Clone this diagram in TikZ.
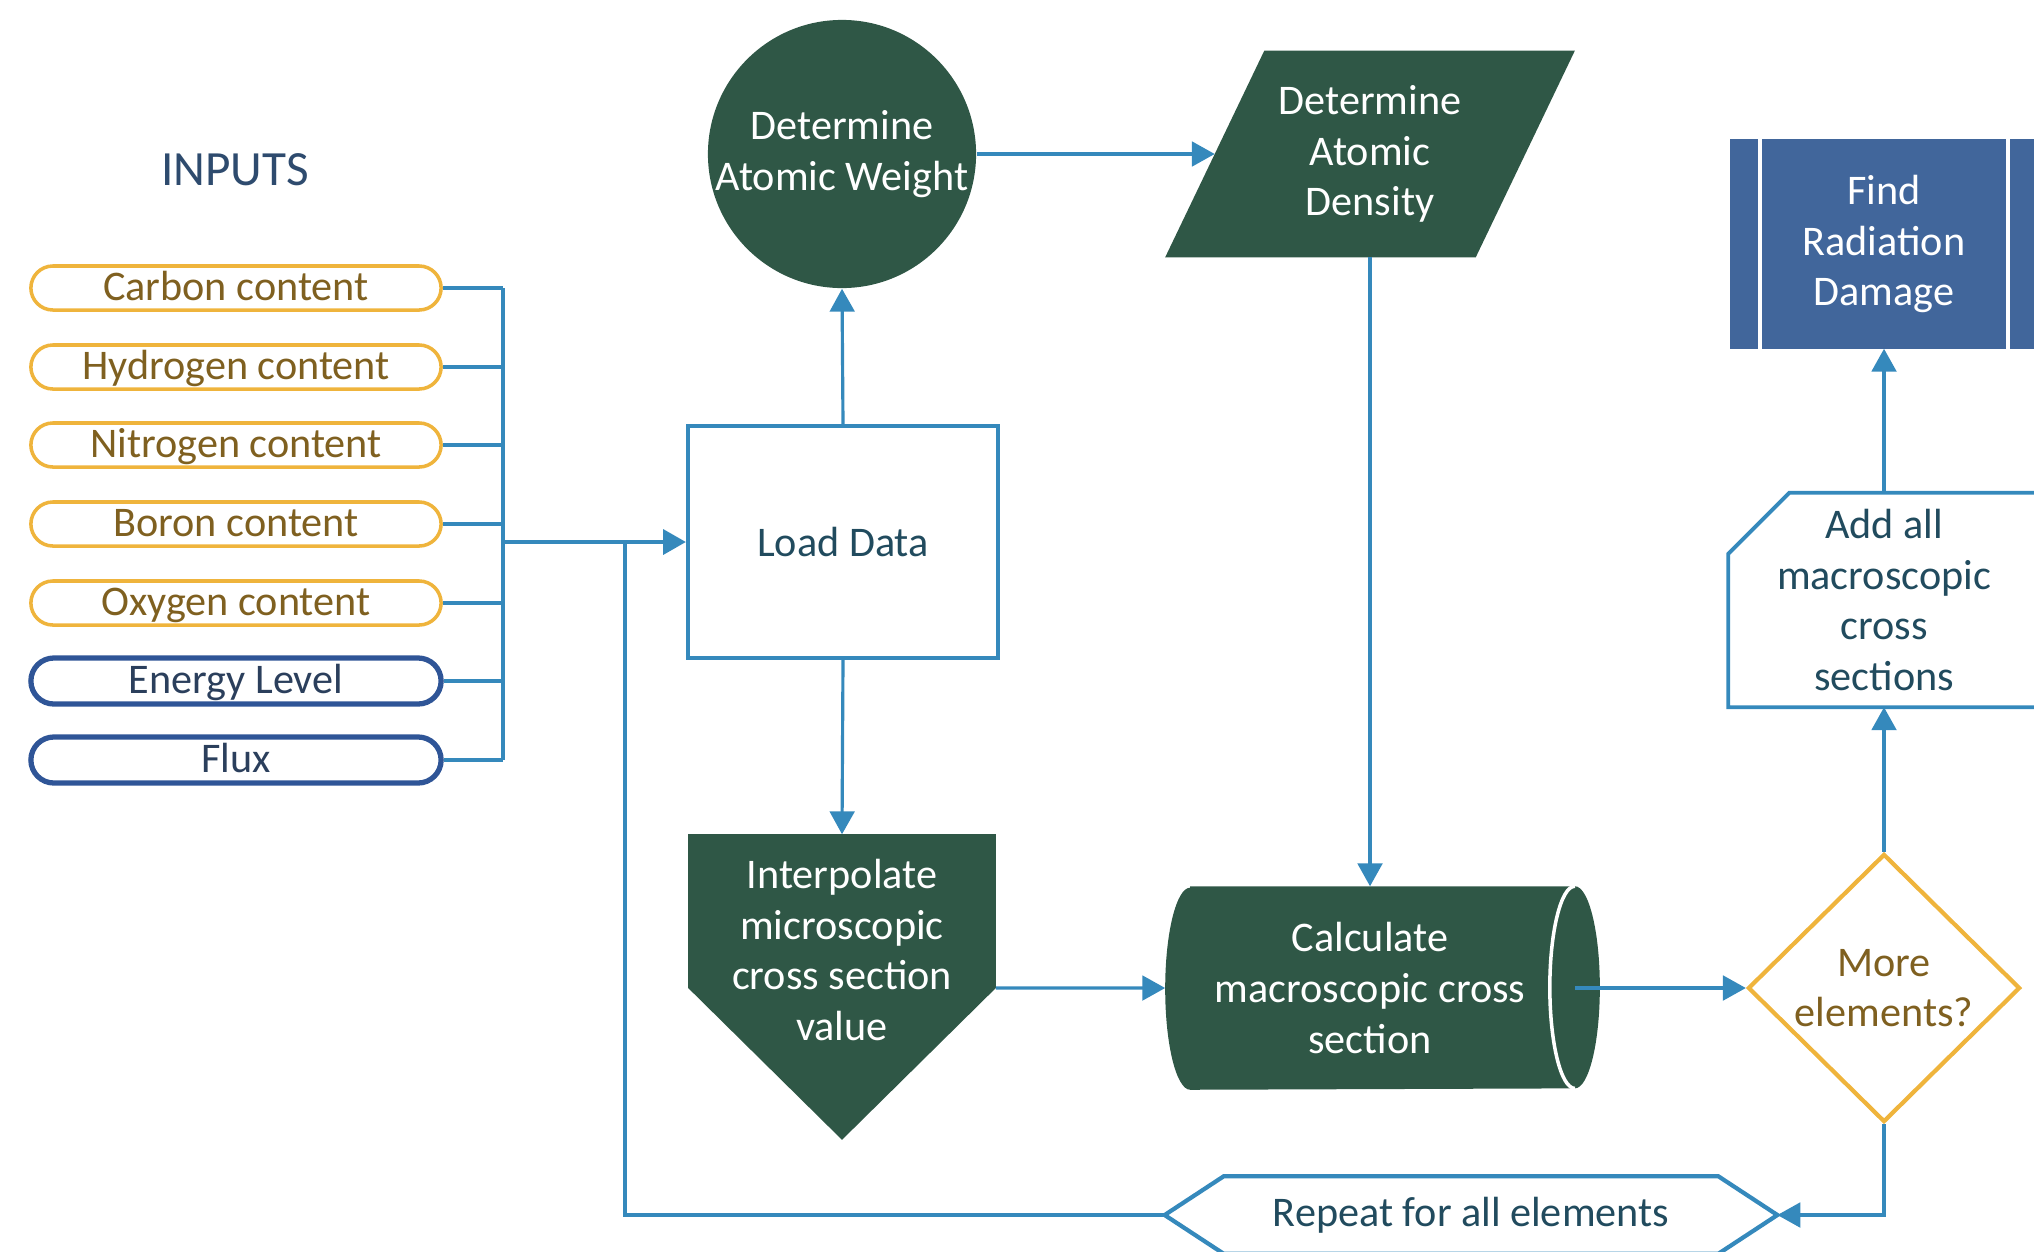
\documentclass[tikz,border=0pt]{standalone}
\usepackage{fontspec}
\setmainfont{Carlito}
\usetikzlibrary{arrows.meta,shapes.geometric}
\pgfdeclarelayer{background}
\pgfsetlayers{background,main}
\definecolor{dgreen}{HTML}{2F5746}
\definecolor{cblue}{HTML}{3589BC}
\definecolor{ylw}{HTML}{EFB43C}
\definecolor{ybrown}{HTML}{7F6020}
\definecolor{navy}{HTML}{2F5597}
\definecolor{navytxt}{HTML}{2B3F5C}
\definecolor{fblue}{HTML}{41669B}
\definecolor{tealtxt}{HTML}{214B5E}
\definecolor{intxt}{HTML}{2E4B6E}
\begin{document}
\begin{tikzpicture}[x=0.01cm,y=-0.01cm,
  txt/.style={font=\fontsize{12}{14.4}\selectfont, align=center, inner sep=0pt},
  pillY/.style={txt, draw=ylw, line width=1pt, rounded corners=0.22cm,
    minimum width=4.10cm, minimum height=0.44cm, text=ybrown, text height=9pt, text depth=2pt},
  pillB/.style={txt, draw=navy, line width=1.5pt, rounded corners=0.23cm,
    minimum width=4.10cm, minimum height=0.46cm, text=navytxt, text height=9pt, text depth=2pt},
  conn/.style={draw=cblue, line width=0.9pt},
  arr/.style={conn, -{Triangle[length=6.5pt,width=7pt]}},
  darktext/.style={txt, text=white},
]
\useasboundingbox (0,0) rectangle (2034,1251);
\clip (0,0) rectangle (2034,1251);

% INPUTS
\node[font=\fontsize{14}{16}\selectfont, text=intxt, inner sep=0pt] (inputs) at (235,170) {INPUTS};
\node[pillY] (carbon) at (236,288) {Carbon content};
\node[pillY] (hydro) at (236,367) {Hydrogen content};
\node[pillY] (nitro) at (236,445) {Nitrogen content};
\node[pillY] (boron) at (236,524) {Boron content};
\node[pillY] (oxy) at (236,603) {Oxygen content};
\node[pillB] (energy) at (236,681) {Energy Level};
\node[pillB] (flux) at (236,760) {Flux};

% main nodes
\node[txt, draw=cblue, line width=1.1pt, minimum width=3.10cm, minimum height=2.32cm, text=tealtxt] (load) at (843,542) {Load Data};
\node[darktext, circle, fill=dgreen, minimum size=2.68cm] (aw) at (842,154) {Determine\\Atomic Weight};
\node[darktext, minimum width=3.09cm, minimum height=2.05cm] (ad) at (1370,154) {Determine\\Atomic\\Density};
\node[darktext, minimum width=3.06cm, minimum height=2.30cm] (interp) at (842,950) {Interpolate\\microscopic\\cross section\\value};
\node[darktext, minimum width=4.08cm, minimum height=2.02cm] (calc) at (1370,988) {Calculate\\macroscopic cross\\section};
\node[txt, diamond, draw=ylw, line width=1.2pt, minimum width=2.72cm, minimum height=2.68cm, text=ybrown] (more) at (1884,988) {More\\elements?};
\node[txt, minimum width=3.10cm, minimum height=2.13cm, text=tealtxt] (add) at (1884,600) {Add all\\macroscopic\\cross\\sections};
\node[darktext, minimum width=3.06cm, minimum height=2.08cm] (find) at (1884,244) {Find\\Radiation\\Damage};
\node[txt, minimum width=6.11cm, minimum height=0.76cm, text=tealtxt] (rep) at (1471,1215) {Repeat for all elements};

% shapes
\begin{pgfonlayer}{background}
  \fill[dgreen] ([xshift=0.495cm]ad.north west) -- ([xshift=0.495cm]ad.north east)
    -- ([xshift=-0.495cm]ad.south east) -- ([xshift=-0.495cm]ad.south west) -- cycle;
  \fill[dgreen] (interp.north west) -- (interp.north east) -- ([yshift=-0.38cm]interp.east)
    -- ([yshift=-0.74cm]interp.south) -- ([yshift=-0.38cm]interp.west) -- cycle;
  \fill[dgreen] ([xshift=0.25cm]calc.north west) -- (calc.north east)
    arc[start angle=90, end angle=-90, x radius=0.25cm, y radius=1.01cm]
    -- ([xshift=0.25cm]calc.south west)
    arc[start angle=270, end angle=90, x radius=0.25cm, y radius=1.01cm] -- cycle;
  \draw[white, line width=1pt] (calc.north east)
    arc[start angle=90, end angle=270, x radius=0.25cm, y radius=1.01cm];
  \filldraw[fill=white, draw=cblue, line width=1.1pt] (add.north east) -- ([xshift=0.61cm]add.north west)
    -- ([yshift=-0.61cm]add.north west) -- (add.south west) -- (add.south east) -- cycle;
  \fill[fblue] (find.north west) rectangle (find.south east);
  \draw[white, line width=1.2pt] ([xshift=0.30cm]find.north west) -- ([xshift=0.30cm]find.south west);
  \draw[white, line width=1.2pt] ([xshift=-0.30cm]find.north east) -- ([xshift=-0.30cm]find.south east);
  \filldraw[fill=white, draw=cblue, line width=1.2pt] (rep.west) -- ([xshift=0.59cm]rep.north west)
    -- ([xshift=-0.59cm]rep.north east) -- (rep.east) -- ([xshift=-0.59cm]rep.south east)
    -- ([xshift=0.59cm]rep.south west) -- cycle;
\end{pgfonlayer}

% connectors
\coordinate (bus) at (503,542);
\coordinate (loopc) at (625,542);
\foreach \n in {carbon,hydro,nitro,boron,oxy,energy,flux}
  \draw[conn] (\n.east) -- (\n.east -| bus);
\draw[conn] (carbon.east -| bus) -- (flux.east -| bus);
\draw[arr, line width=1.3pt] (bus) -- (load.west);
\draw[conn] (rep.west) -| (loopc);
\draw[arr] (load.north) -- (aw.south);
\draw[arr] (aw.east) -- (ad.west);
\draw[arr] (ad.south) -- (calc.north);
\draw[arr] (load.south) -- (interp.north);
\draw[arr] ([yshift=-0.38cm]interp.east) -- (calc.west);
\draw[arr] (calc.east) -- (more.west);
\draw[arr] (more.north) -- (add.south);
\draw[arr] (add.north) -- (find.south);
\draw[arr] (more.south) |- (rep.east);
\end{tikzpicture}
\end{document}
